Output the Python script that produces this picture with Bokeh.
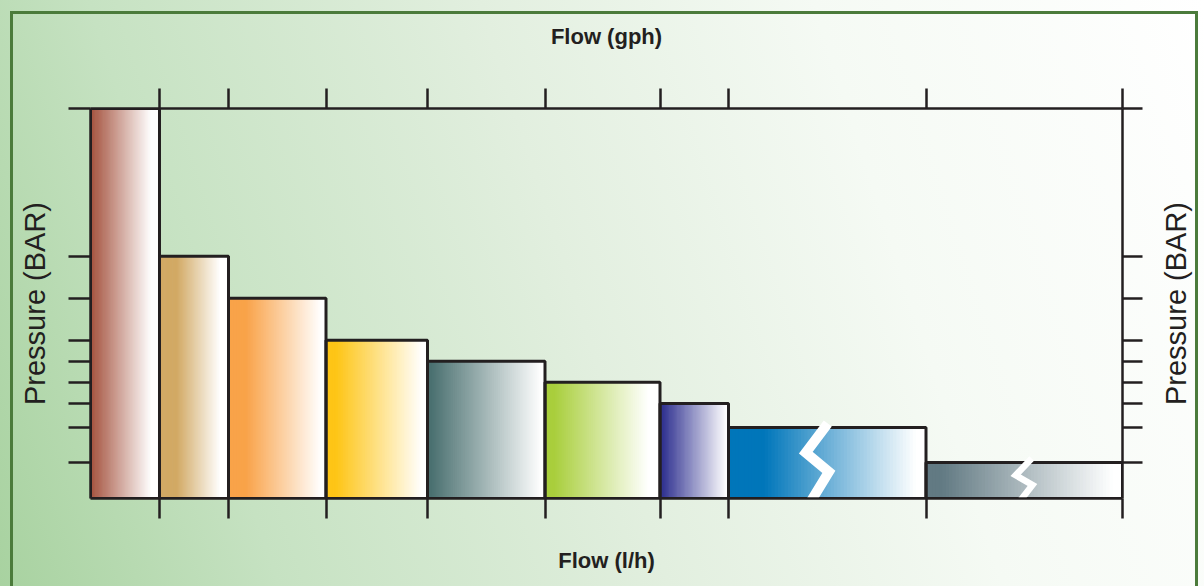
import math
from bokeh.plotting import figure
from bokeh.layouts import row
from bokeh.models import LinearAxis, FixedTicker, Range1d, CustomJSTickFormatter
from bokeh.embed import file_html
from bokeh.resources import INLINE

# ---------------- data ----------------
flow_edges = [0, 69, 138, 235.5, 337, 454.5, 569.5, 638, 835.5, 1032]   # bar boundaries (flow)
pressure = [38.95, 24.2, 20.0, 15.8, 13.7, 11.6, 9.5, 7.1, 3.6]          # bar heights (pressure)
bar_colors = ["#a4513d", "#d2a964", "#f9a349", "#fec516", "#4a7070",
              "#a9ce3c", "#2f3190", "#0076ba", "#627a83"]
broken_bars = [7, 8]            # bars drawn with a scale-break mark
x_title_top = "Flow (gph)"
x_title_bottom = "Flow (l/h)"
y_title = "Pressure (BAR)"

# ---------------- styles ----------------
INK = "#231f20"
N_STRIPS = 60
fade_start = [0.0, 0.25, 0.18, 0.10, 0.03, 0.08, 0.03, 0.18, 0.08]
fade_end = [0.88, 0.88, 0.95, 0.95, 0.97, 0.90, 0.97, 0.95, 0.95]

p = figure(width=1150, height=586, output_backend="svg", toolbar_location=None,
           x_range=Range1d(flow_edges[0], flow_edges[-1]),
           y_range=Range1d(0, max(pressure)),
           min_border_left=90, min_border_right=28, min_border_top=108, min_border_bottom=88,
           border_fill_color=None, background_fill_color=None, outline_line_color=None)
p.grid.visible = False


def hex_to_rgb(h):
    h = h.lstrip("#")
    return tuple(int(h[i:i + 2], 16) for i in (0, 2, 4))


def mix_white(rgb, f):
    r, g, b = (int(round(c + (255 - c) * f)) for c in rgb)
    return "#%02x%02x%02x" % (r, g, b)


# gradient strips for each bar (dark at left -> white at right)
lefts, rights, tops, cols = [], [], [], []
for i, c in enumerate(bar_colors):
    l, r, h = flow_edges[i], flow_edges[i + 1], pressure[i]
    rgb = hex_to_rgb(c)
    dw = (r - l) / N_STRIPS
    s0, s1 = fade_start[i], fade_end[i]
    for k in range(N_STRIPS):
        t = (k + 0.5) / N_STRIPS
        f = min(1.0, max(0.0, (t - s0) / (s1 - s0)))
        lefts.append(l + k * dw)
        rights.append(min(r, l + (k + 1.6) * dw))
        tops.append(h)
        cols.append(mix_white(rgb, f))
p.quad(left=lefts, right=rights, bottom=0, top=tops, fill_color=cols, line_color=None)

# bar outlines
p.quad(left=flow_edges[:-1], right=flow_edges[1:], bottom=0, top=pressure,
       fill_color=None, line_color=INK, line_width=3)

# scale-break marks (white zig-zag) on the broken bars
zig_frac_x = [0.5, -0.5, 0.55, -0.3]
zig_frac_y = [1.0, 0.645, 0.375, 0.0]
for j, i in enumerate(broken_bars):
    l, r, h = flow_edges[i], flow_edges[i + 1], pressure[i]
    centre = l + (0.447 if j == 0 else 0.497) * (r - l)
    amp = 22 if j == 0 else 16
    xs = [centre + fx * amp for fx in zig_frac_x]
    ys = [h * fy for fy in zig_frac_y]
    ys[0] += 0.4
    ys[-1] -= 0.4
    p.line(xs, ys, line_color="white", line_width=10 if j == 0 else 6.5, line_join="miter")

# axes
p.add_layout(LinearAxis(), "above")
p.add_layout(LinearAxis(), "right")

blank = CustomJSTickFormatter(code="return ''")


def style_axis(ax, ticks, tick_out, label, standoff, bold=False, size="29px"):
    ax.ticker = FixedTicker(ticks=ticks, minor_ticks=[])
    ax.formatter = blank
    ax.major_tick_out = tick_out
    ax.major_tick_in = 0
    ax.minor_tick_out = 0
    ax.minor_tick_in = 0
    ax.major_label_text_font_size = "1px"
    ax.major_label_standoff = 0
    ax.axis_line_color = INK
    ax.axis_line_width = 2.5
    ax.major_tick_line_color = INK
    ax.major_tick_line_width = 2.5
    if label:
        ax.axis_label = label
        ax.axis_label_standoff = standoff
        ax.axis_label_text_color = INK
        ax.axis_label_text_font_size = size
        ax.axis_label_text_font = "Liberation Sans"
        ax.axis_label_text_font_style = "bold" if bold else "normal"


for ax in p.below:
    style_axis(ax, flow_edges[1:], 20, x_title_bottom, 29, bold=True, size="22px")
for ax in p.above:
    style_axis(ax, flow_edges[1:], 20, x_title_top, 40, bold=True, size="22px")
for ax in p.left:
    style_axis(ax, pressure, 22, y_title, 18)
for ax in p.right:
    style_axis(ax, pressure, 20, None, 0)

# narrow companion panel carrying the right-hand pressure title (reads bottom-to-top)
p2 = figure(width=54, height=586, output_backend="svg", toolbar_location=None,
            x_axis_location=None, y_range=p.y_range, x_range=Range1d(0, 1),
            min_border_left=41, min_border_right=0, min_border_top=108, min_border_bottom=88,
            border_fill_color=None, background_fill_color=None, outline_line_color=None)
p2.grid.visible = False
for ax in p2.left:
    style_axis(ax, pressure, 0, y_title, 0)
    ax.axis_line_color = None
    ax.major_tick_line_color = None
p2.scatter([0.5], [0.5], size=0, alpha=0)

layout = row(p, p2, spacing=0)
bg = ("linear-gradient(#4b7b3b,#4b7b3b) 10px 11px / 3px 100% no-repeat, "
      "linear-gradient(#4b7b3b,#4b7b3b) 10px 11px / calc(100% - 16px) 3px no-repeat, "
      "linear-gradient(#4b7b3b,#4b7b3b) right 6px top 11px / 3px 100% no-repeat, "
      "linear-gradient(72deg, #a8d2a0 0%, #c6e2c2 20%, #e2efdf 48%, #f5faf4 72%, #ffffff 100%)")
layout.styles = {"background": bg}

open("out.html", "w").write(file_html(layout, INLINE))
